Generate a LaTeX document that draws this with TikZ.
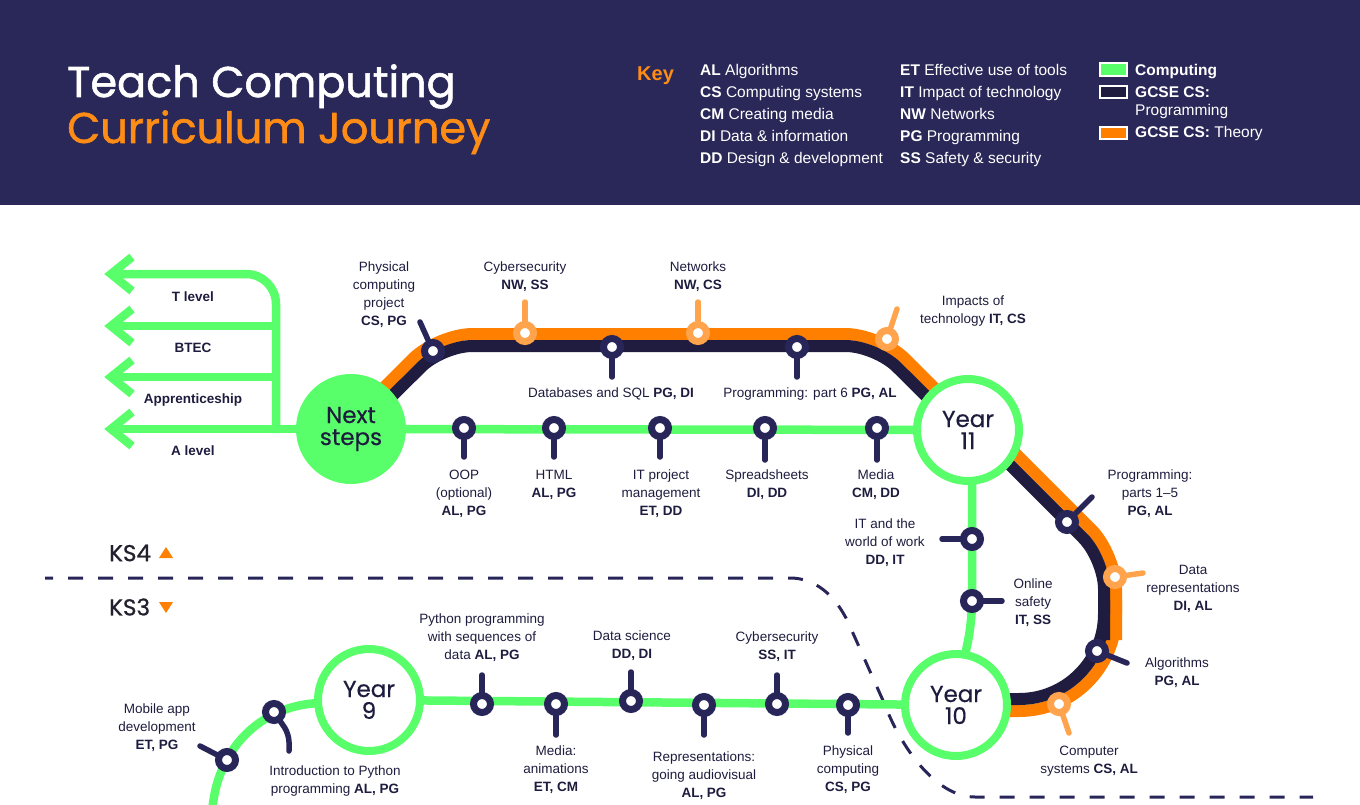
\documentclass[tikz,border=0pt]{standalone}
\usepackage{fontspec}
\setmainfont{Liberation Sans}
\newfontfamily\geo[FakeBold=0.4]{Poppins}
\newfontfamily\geot[FakeBold=1.3]{Poppins}
\newfontfamily\geok[FakeBold=0.9]{Poppins}
\definecolor{cnavy}{RGB}{42,40,88}
\definecolor{ctext}{RGB}{30,28,62}
\definecolor{cdark}{RGB}{31,28,63}
\definecolor{cstation}{RGB}{40,38,88}
\definecolor{cgreen}{RGB}{89,255,107}
\definecolor{corange}{RGB}{255,128,0}
\definecolor{clor}{RGB}{255,164,76}
\definecolor{ctitleor}{RGB}{255,140,20}
\definecolor{cks}{RGB}{34,33,45}
\newcommand\stn[4]{%
  \coordinate (#1c) at (#2);
  \coordinate (#1e) at (#3);
  \draw[stem, draw=#4] (#1c) -- (#1e);
  \node[stnode, draw=#4] (#1) at (#1c) {};
}
\tikzset{
  gline/.style={draw=cgreen, line width=8.5},
  dline/.style={draw=cdark, line width=12},
  oline/.style={draw=corange, line width=12},
  stnode/.style={circle, minimum size=17, inner sep=0, line width=7, fill=white},
  stem/.style={line width=5.5, line cap=round},
  lbl/.style={text=ctext, align=center, font=\fontsize{13.5}{18}\selectfont, inner sep=0},
  blbl/.style={text=ctext, align=center, font=\bfseries\fontsize{13.5}{18}\selectfont, inner sep=0},
  ycirc/.style={circle, draw=cgreen, line width=8, fill=white, minimum size=102, inner sep=0, align=center, text=ctext, font=\geo\fontsize{23}{22}\selectfont},
  keyt/.style={anchor=base west, text=white, font=\fontsize{15.5}{18}\selectfont, inner sep=0},
  kline/.style={draw=cstation, line width=3, dash pattern=on 15pt off 15pt, dash phase=7pt},
  chev/.style={draw=cgreen, line width=8.5, line join=miter},
  ks/.style={anchor=west, text=cks, font=\geok\fontsize{23}{23}\selectfont, inner sep=0},
  swatch/.style={draw=white, line width=1.5}
}
\begin{document}
\begin{tikzpicture}[x=1pt,y=-1pt]
\useasboundingbox (0,0) rectangle (1360,805);
% header
\fill[cnavy] (0,0) rectangle (1360,205);
\node[anchor=base west, inner sep=0, text=white, font=\geot\fontsize{43}{43}\selectfont] (t1) at (67,97) {Teach Computing};
\node[anchor=base west, inner sep=0, text=ctitleor, font=\geot\fontsize{43}{43}\selectfont] (t2) at (67,143) {Curriculum Journey};
\node[anchor=base west, inner sep=0, text=ctitleor, font=\bfseries\fontsize{20}{20}\selectfont] (key) at (637,81) {Key};
\node[keyt] (k1) at (700,76) {\textbf{AL} Algorithms};
\node[keyt] (k2) at (700,98) {\textbf{CS} Computing systems};
\node[keyt] (k3) at (700,120) {\textbf{CM} Creating media};
\node[keyt] (k4) at (700,142) {\textbf{DI} Data \& information};
\node[keyt] (k5) at (700,164) {\textbf{DD} Design \& development};
\node[keyt] (k6) at (900,76) {\textbf{ET} Effective use of tools};
\node[keyt] (k7) at (900,98) {\textbf{IT} Impact of technology};
\node[keyt] (k8) at (900,120) {\textbf{NW} Networks};
\node[keyt] (k9) at (900,142) {\textbf{PG} Programming};
\node[keyt] (k10) at (900,164) {\textbf{SS} Safety \& security};
\filldraw[swatch, fill=cgreen] (1100,63) rectangle (1127,76);
\filldraw[swatch, fill=cdark] (1100,86) rectangle (1127,98);
\filldraw[swatch, fill=corange] (1100,127) rectangle (1127,139);
\node[keyt] (k11) at (1135,76) {\textbf{Computing}};
\node[keyt] (k12) at (1135,98) {\textbf{GCSE CS:}};
\node[keyt] (k13) at (1135,116) {Programming};
\node[keyt] (k14) at (1135,138) {\textbf{GCSE CS:} Theory};
% KS divider
\draw[kline] (45,578) -- (790,578) .. controls (815,578) and (835,595) .. (848,622) -- (885,705) .. controls (900,745) and (935,797) .. (975,797) -- (1313,797);
\node[ks] (ks4) at (109,553) {KS4};
\node[ks] (ks3) at (109,607) {KS3};
\fill[corange] (159,558) -- (173,558) -- (166,547) -- cycle;
\fill[corange] (159,602) -- (173,602) -- (166,613) -- cycle;
% GCSE lines
\draw[oline, rounded corners=35] (345.8,425.8) -- (437.6,334) -- (880.4,334) -- (955,408.6);
\draw[dline, rounded corners=30] (354,434) -- (442.4,346) -- (875.6,346) -- (950,420);
\draw[oline, rounded corners=35] (995,433) -- (1116,554) -- (1116,640);
\draw[oline, rounded corners=97] (1116,600) -- (1116,711) -- (960,711);
\draw[dline, rounded corners=30] (990,445) -- (1104,559) -- (1104,640);
\draw[dline, rounded corners=85] (1104,600) -- (1104,699) -- (960,699);
% green lines under circles
\draw[gline, rounded corners=20] (972,470) -- (972,622) -- (964,660);
\draw[gline] (340,703) -- (320,703) .. controls (260,705) and (215,750) .. (212,815);
% left arrows
\coordinate (a1) at (111,274);
\coordinate (a2) at (111,326);
\coordinate (a3) at (111,377);
\coordinate (a4) at (111,429);
\coordinate (v1) at (276,274);
\coordinate (v2) at (276,326);
\coordinate (v3) at (276,377);
\coordinate (v4) at (276,433);
\draw[gline, rounded corners=30] (a1) -- (v1) -- (v4);
\draw[gline] (a2) -- (v2);
\draw[gline] (a3) -- (v3);
\foreach \yy in {274,326,377,429} {\draw[chev] (132,\yy-17) -- (111,\yy) -- (132,\yy+17);}
% circles
\node[circle, fill=cgreen, minimum size=110, inner sep=0, align=center, text=ctext, font=\geo\fontsize{23}{22}\selectfont] (ns) at (351,429) {Next\\steps};
\node[ycirc] (y11) at (968,430) {Year\\11};
\node[ycirc] (y10) at (956,705) {Year\\10};
\node[ycirc] (y9) at (369,700) {Year\\9};
\draw[gline] (a4) -- (ns);
\draw[gline] (ns) -- (y11);
\draw[gline] (y9) -- (y10);
% stations top
\stn{pc}{433,351}{420,322}{cstation}
\stn{db}{612,347}{612,377}{cstation}
\stn{pt}{797,347}{797,377}{cstation}
\stn{cy}{525,333}{525,302}{clor}
\stn{nw}{698,333}{698,302}{clor}
\stn{im}{887,339}{897,309}{clor}
% stations on green Y11 line
\stn{oop}{464,428}{464,457}{cstation}
\stn{html}{554,428}{554,457}{cstation}
\stn{itp}{660,428}{660,457}{cstation}
\stn{ssh}{765,428}{765,460}{cstation}
\stn{med}{877,428}{877,460}{cstation}
% right side
\stn{pf}{1067,522}{1092,497}{cstation}
\stn{itw}{972,539}{942,539}{cstation}
\stn{os}{972,601}{1002,601}{cstation}
\stn{dr}{1115,577}{1143,573}{clor}
\stn{alg}{1097,651}{1127,663}{cstation}
\stn{csy}{1059,704}{1069,733}{clor}
% bottom
\stn{py}{482,704}{482,675}{cstation}
\stn{ma}{556,704}{556,735}{cstation}
\stn{ds}{631,701}{631,672}{cstation}
\stn{rep}{704,705}{704,735}{cstation}
\stn{cyb}{777,704}{777,675}{cstation}
\stn{phc}{848,705}{848,733}{cstation}
\stn{mob}{227,760}{200,746}{cstation}
\coordinate (ipc) at (274,712);
\coordinate (ipm) at (289,734);
\coordinate (ipe) at (289,751);
\draw[stem, draw=cstation, rounded corners=8] (ipc) -- (ipm) -- (ipe);
\node[stnode, draw=cstation] (ip) at (ipc) {};
% left labels
\node[blbl] (lt) at (193,297) {T level};
\node[blbl] (lb) at (193,348) {BTEC};
\node[blbl] (la) at (193,400) {Apprenticeship};
\node[blbl] (ll) at (193,451) {A level};
% top labels
\node[lbl] (xpc) at (384,295) {Physical\\computing\\project\\\textbf{CS, PG}};
\node[lbl] (xcy) at (525,277) {Cybersecurity\\\textbf{NW, SS}};
\node[lbl] (xnw) at (698,277) {Networks\\\textbf{NW, CS}};
\node[lbl] (xdb) at (611,394) {Databases and SQL \textbf{PG, DI}};
\node[lbl] (xpt) at (810,394) {Programming: part 6 \textbf{PG, AL}};
\node[lbl] (xim) at (973,311) {Impacts of\\technology \textbf{IT, CS}};
\node[lbl] (xoop) at (464,494) {OOP\\(optional)\\\textbf{AL, PG}};
\node[lbl] (xhtml) at (554,485) {HTML\\\textbf{AL, PG}};
\node[lbl] (xitp) at (661,494) {IT project\\management\\\textbf{ET, DD}};
\node[lbl] (xssh) at (767,485) {Spreadsheets\\\textbf{DI, DD}};
\node[lbl] (xmed) at (876,485) {Media\\\textbf{CM, DD}};
% right labels
\node[lbl] (xpf) at (1150,494) {Programming:\\parts 1–5\\\textbf{PG, AL}};
\node[lbl] (xitw) at (885,543) {IT and the\\world of work\\\textbf{DD, IT}};
\node[lbl] (xos) at (1033,603) {Online\\safety\\\textbf{IT, SS}};
\node[lbl] (xdr) at (1193,589) {Data\\representations\\\textbf{DI, AL}};
\node[lbl] (xalg) at (1177,673) {Algorithms\\\textbf{PG, AL}};
\node[lbl] (xcsy) at (1089,761) {Computer\\systems \textbf{CS, AL}};
% bottom labels
\node[lbl] (xpy) at (482,638) {Python programming\\with sequences of\\data \textbf{AL, PG}};
\node[lbl] (xma) at (556,770) {Media:\\animations\\\textbf{ET, CM}};
\node[lbl] (xds) at (632,646) {Data science\\\textbf{DD, DI}};
\node[lbl] (xrep) at (704,776) {Representations:\\going audiovisual\\\textbf{AL, PG}};
\node[lbl] (xcyb) at (777,647) {Cybersecurity\\\textbf{SS, IT}};
\node[lbl] (xphc) at (848,770) {Physical\\computing\\\textbf{CS, PG}};
\node[lbl] (xmob) at (157,728) {Mobile app\\development\\\textbf{ET, PG}};
\node[lbl] (xip) at (335,781) {Introduction to Python\\programming \textbf{AL, PG}};
\end{tikzpicture}
\end{document}
